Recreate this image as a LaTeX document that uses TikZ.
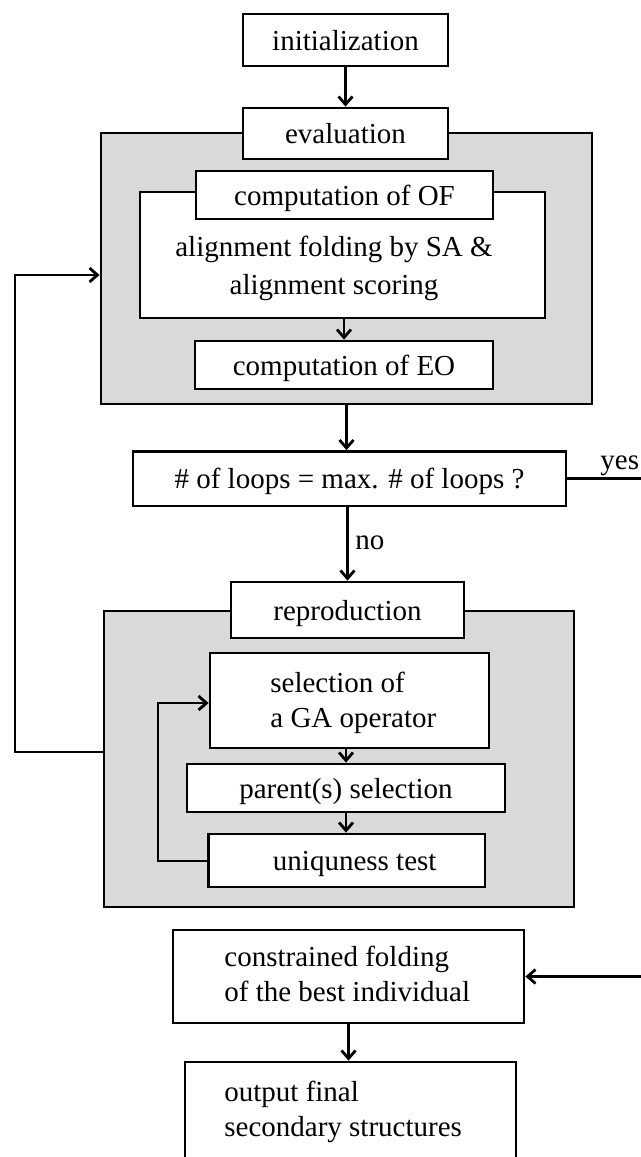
\documentclass[tikz,border=0pt]{standalone}
\usepackage{fontspec}
\setmainfont{Liberation Serif}
\usetikzlibrary{arrows.meta}
\definecolor{panelgray}{RGB}{217,217,217}
\begin{document}
\begin{tikzpicture}[x=0.5pt,y=-0.5pt,
  every node/.style={inner sep=0pt, font=\fontsize{14.5}{17.5}\selectfont},
  box/.style={draw, line width=1.4pt, fill=white, text height=11pt, text depth=1pt},
  panel/.style={draw, line width=1.4pt, fill=panelgray},
  arr/.style={line width=1.4pt, -{Straight Barb[length=4pt,width=7pt]}},
  lbl/.style={anchor=base west}]
\useasboundingbox (0,0) rectangle (641,1157);
\clip (0,0) rectangle (641,1157);

\node[box, minimum width=102.5pt, minimum height=26pt] (init) at (345.5,40) {initialization};
\node[panel, minimum width=245.5pt, minimum height=135.5pt] (gray1) at (346.5,268.5) {};
\node[box, minimum width=102.5pt, minimum height=25.5pt] (eval) at (345.5,133.5) {evaluation};
\node[box, minimum width=202.5pt, minimum height=63pt] (align) at (342.5,255) {};
\node[anchor=base, font=\fontsize{14.5}{19}\selectfont] (alignT) at (334,256.5)
  {\begin{tabular}[t]{@{}c@{}}alignment folding by SA \&\\alignment scoring\end{tabular}};
\node[box, minimum width=148.5pt, minimum height=24pt] (OF) at (344.5,195) {computation of OF};
\node[box, minimum width=149pt, minimum height=24pt] (EO) at (344,365) {computation of EO};

\node[box, minimum width=216.5pt, minimum height=27.25pt] (loops) at (349.5,478.75) {\# of loops = max. \# of loops ?};

\node[panel, minimum width=235pt, minimum height=148pt] (gray2) at (339,759) {};
\node[box, minimum width=116.5pt, minimum height=28pt] (repro) at (347.5,610) {reproduction};
\node[box, minimum width=139.5pt, minimum height=47.5pt] (sel) at (349.5,700.5) {};
\node[lbl] (selT) at (270,692) {\begin{tabular}[t]{@{}l@{}}selection of\\a GA operator\end{tabular}};
\node[box, minimum width=159pt, minimum height=24pt] (parent) at (346,788) {parent(s) selection};
\node[box, minimum width=138.25pt, minimum height=26.5pt] (uniq) at (346.75,860.5) {\hspace{8pt}uniquness test};

\node[box, minimum width=175.5pt, minimum height=46.5pt] (constr) at (348.5,976.5) {};
\node[lbl] (constrT) at (224,966) {\begin{tabular}[t]{@{}l@{}}constrained folding\\of the best individual\end{tabular}};
\node[box, minimum width=165.5pt, minimum height=59pt] (output) at (350.5,1121) {};
\node[lbl] (outT) at (224,1101) {\begin{tabular}[t]{@{}l@{}}output final\\secondary structures\end{tabular}};

\node[lbl] (yes) at (600,469) {yes};
\node[lbl] (no) at (355,549) {no};

\coordinate (lp1) at (15,752);
\coordinate (lp2) at (15,275);
\coordinate (ip1) at (158,861);
\coordinate (ip2) at (158,703);
\coordinate (yr) at (680,478.75);

\draw[arr] (init.south) -- (init.south |- eval.north);
\draw[arr] (align.south -| EO.north) -- (EO.north);
\draw[arr] (gray1.south) -- (gray1.south |- loops.north);
\draw[arr] (loops.south -| repro.north) -- (repro.north);
\draw[arr] (sel.south -| parent.north) -- (parent.north);
\draw[arr] (parent.south) -- (parent.south |- uniq.north);
\draw[arr] (constr.south) -- (constr.south |- output.north);
\draw[arr] (loops.east) -- (yr) |- (constr.east);
\draw[arr] (gray2.west |- lp1) -- (lp1) -- (lp2) -- (gray1.west |- lp2);
\draw[arr] (uniq.west |- ip1) -- (ip1) -- (ip2) -- (sel.west |- ip2);
\end{tikzpicture}
\end{document}
